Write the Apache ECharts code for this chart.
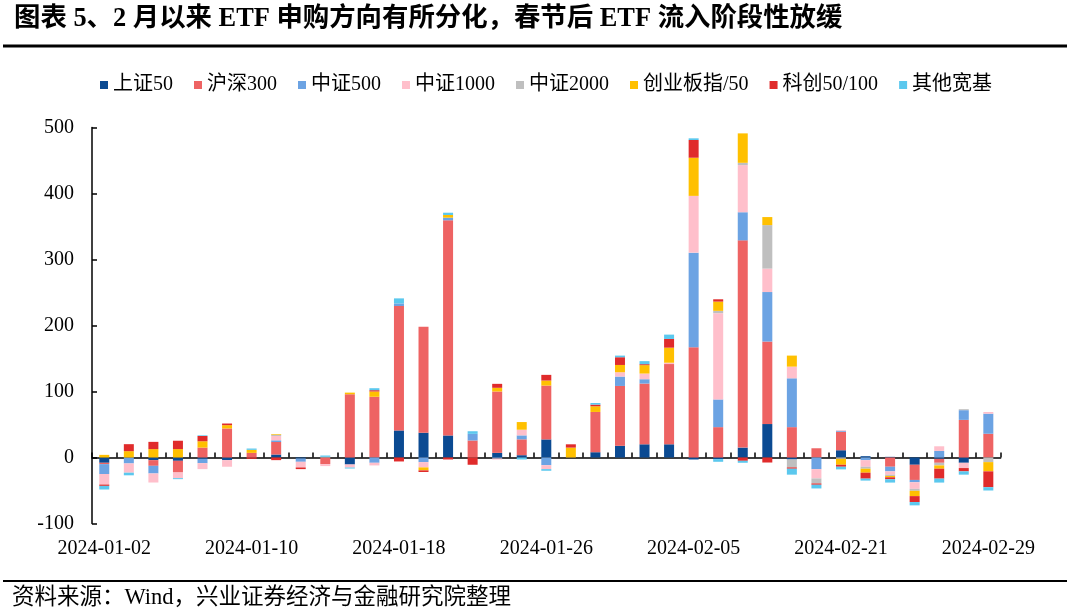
<!DOCTYPE html>
<html>
<head>
<meta charset="utf-8">
<script src="https://cdn.jsdelivr.net/npm/echarts@6/dist/echarts.min.js"></script>
<style>html,body{margin:0;padding:0;background:#fff;}#c{width:1067px;height:611px;}</style>
</head>
<body>
<div id="c"></div>
<script>
const dates = ['2024-01-02','2024-01-03','2024-01-04','2024-01-05','2024-01-08','2024-01-09','2024-01-10','2024-01-11','2024-01-12','2024-01-15','2024-01-16','2024-01-17','2024-01-18','2024-01-19','2024-01-22','2024-01-23','2024-01-24','2024-01-25','2024-01-26','2024-01-29','2024-01-30','2024-01-31','2024-02-01','2024-02-02','2024-02-05','2024-02-06','2024-02-07','2024-02-08','2024-02-19','2024-02-20','2024-02-21','2024-02-22','2024-02-23','2024-02-26','2024-02-27','2024-02-28','2024-02-29'];
const seriesNames = ['上证50','沪深300','中证500','中证1000','中证2000','创业板指/50','科创50/100','其他宽基'];
const sz50   = [-8,0,-4,-5,-2,-4,0,4.5,-1.5,0,-10.6,0,41,37.5,33.4,0,7,3.5,27.4,0,8,17.7,20,20,-3,-2.5,15,50.7,-3,0,11,2,1,-11,-2,-8,0];
const hs300  = [-2,0,-8.6,-17.7,15,44,7,19,0,-10,95.8,92,188.5,160.6,326,25.8,93,24,81.6,0,61,90.7,92,121.6,167,46,314,125,46,14,28,0,-14,-23,-6,57,36];
const zz500  = [-15,-9,-11.6,0,-6.6,0,0,2.5,-5,0,0,-8,4,-7,4,10,-1.5,6,-11.6,0,0,14.2,6.6,0,143.4,42,42.6,75,74,-17.7,1.5,-4,-7,-3.5,10,14.7,30.4];
const zz1000 = [-16,-14,-13.7,-8.6,-9,-10,0,6.6,-8.6,-3,-4.6,-4,0,-8,0,0,-1.5,8.6,-6,0,0,6.6,8.6,2,86,130.7,71.4,35.5,17.7,-14,1,-10,-5,-10,7,-8,2.5];
const zz2000 = [0,0,0,0,0,0,0,2,0,1,0,0,0,0,0,0,0,0,0,0,0,0,0,0,0,3.5,3.5,65.9,-12,-7.6,-2,-3,-2,-3,-4,1.5,-7];
const cyb    = [4,9.6,12.7,12.7,9.6,5,4.6,1,0,0,2.5,8,0,-4.5,4,0,5.6,11.6,7.6,15,8.6,11,12.7,22.8,57.8,14,44.6,12.2,16.7,0,-9,-6,-2,-8,-5,0,-14];
const kc     = [-2,10.6,11,12.7,8,2.5,-2,-4,-2.5,0,0,2,-6,-2.5,-3,-11,6,0,8.6,5,2.5,11.7,1.5,13.2,26.9,3.5,-5,-7.6,-2,-2,-3,-9,-3,-9,-15,-5,-24];
const other  = [-5.5,-4,0,-1.5,1,0,2,0,0,2,-1.5,3,7.6,0,3.5,4,0,-3,-2.5,0,2.5,2.5,4.6,6.6,2.5,-4,-3,0,-9,-5.6,-4,-3,-5,-5,-6,-5,-5];
const yTicks = [-100,0,100,200,300,400,500];

const colors = ['#0B4A92','#EE6363','#6CA3E3','#FFBFCB','#BFBFBF','#FFC000','#E02B2B','#5BC8EE'];
const values = [sz50,hs300,zz500,zz1000,zz2000,cyb,kc,other];
const FONT = "'Liberation Serif','Noto Sans CJK SC',serif";

const chart = echarts.init(document.getElementById('c'), null, {renderer:'canvas'});
chart.setOption({
  animation:false,
  backgroundColor:'#fff',
  color: colors,
  grid:{left:92,right:66.4,top:127.5,bottom:87.5,containLabel:false},
  legend:{
    data: seriesNames,
    left:95, top:70,
    itemWidth:8, itemHeight:8, itemGap:21,
    icon:'rect',
    textStyle:{fontFamily:FONT,fontSize:20,color:'#000'}
  },
  xAxis:[{
    type:'category', data:dates, position:'bottom',
    axisLine:{onZero:true,lineStyle:{color:'#000',width:1.5}},
    axisTick:{show:true,inside:true,length:5,interval:0,lineStyle:{color:'#000',width:1.5}},
    axisLabel:{show:false},
    splitLine:{show:false}
  },{
    type:'category', data:dates, position:'bottom',
    axisLine:{show:false,onZero:false},
    axisTick:{show:false},
    axisLabel:{interval:5,margin:15,fontFamily:FONT,fontSize:20,color:'#000'},
    splitLine:{show:false}
  }],
  yAxis:{
    type:'value', min:yTicks[0], max:yTicks[yTicks.length-1], interval:100,
    axisLine:{show:true,lineStyle:{color:'#000',width:1.5}},
    axisTick:{show:true,inside:true,length:5,lineStyle:{color:'#000',width:1.5}},
    axisLabel:{margin:18,fontFamily:FONT,fontSize:20,color:'#000'},
    splitLine:{show:false}
  },
  series: seriesNames.map((n,i)=>({
    name:n, type:'bar', stack:'total', xAxisIndex:0, barWidth:10,
    data: values[i],
    itemStyle:{color:colors[i]}
  })),
  graphic:[
    {type:'text', left:14, top:6, style:{text:'图表 5、2 月以来 ETF 申购方向有所分化，春节后 ETF 流入阶段性放缓', font:"bold 26.4px "+FONT, fill:'#000'}},
    {type:'line', shape:{x1:3,y1:46,x2:1067,y2:46}, style:{stroke:'#000',lineWidth:3}},
    {type:'line', shape:{x1:3,y1:581,x2:1067,y2:581}, style:{stroke:'#000',lineWidth:2}},
    {type:'text', left:12, top:587, style:{text:'资料来源：Wind，兴业证券经济与金融研究院整理', font:"22.5px "+FONT, fill:'#000'}}
  ]
});
</script>
</body>
</html>
